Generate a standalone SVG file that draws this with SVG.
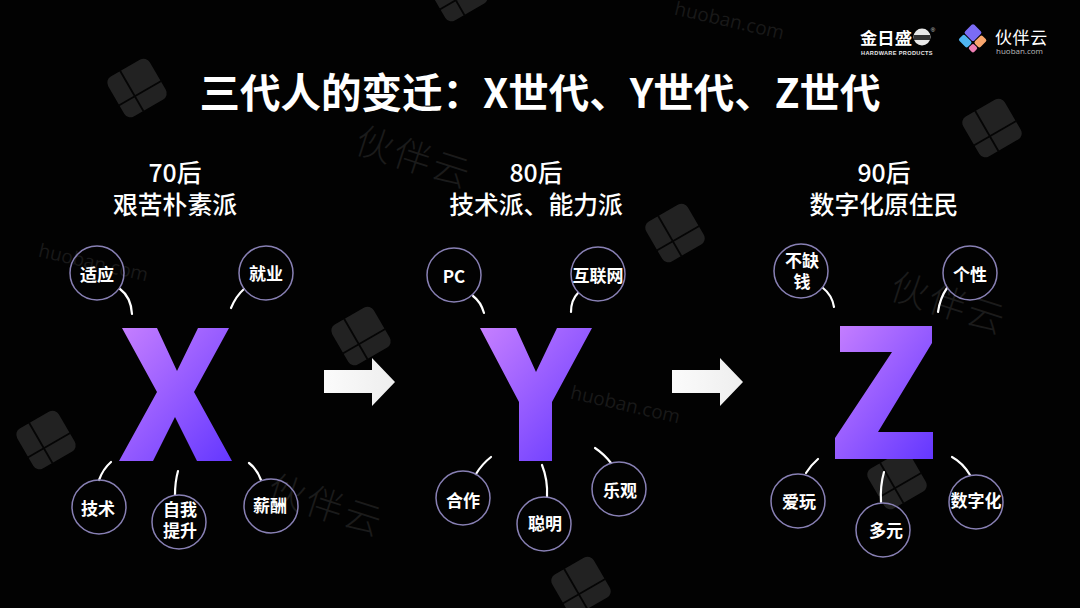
<svg xmlns="http://www.w3.org/2000/svg" width="1080" height="608" viewBox="0 0 1080 608">
<style>
.cjk{font-family:"Noto Sans CJK SC","Noto Sans",sans-serif}
.title{font-size:40.5px;font-weight:700;fill:#fff;text-anchor:middle}
.sub{font-size:24.8px;font-weight:500;fill:#fff;text-anchor:middle}
.lbl{font-size:17px;font-weight:700;fill:#fff;text-anchor:middle}
.ring{fill:none;stroke:#8880b4;stroke-width:1.5}
.con{fill:none;stroke:#fff;stroke-width:2.2;stroke-linecap:round}
.wm{font-size:37px;font-weight:300;fill:#1b1b1b;text-anchor:middle;letter-spacing:3px}
.wmu{font-family:"Open Sans","Liberation Sans",sans-serif;font-size:19px;fill:#191919;text-anchor:middle}
.arrow{fill:url(#ag)}
.letter{fill:url(#lg)}
</style>
<defs>
<linearGradient id="lg" gradientUnits="objectBoundingBox" x1="0" y1="0" x2="1" y2="1">
<stop offset="0" stop-color="#c67fff"/><stop offset="1" stop-color="#6437ff"/>
</linearGradient>
<linearGradient id="ag" x1="0" y1="0" x2="1" y2="0">
<stop offset="0" stop-color="#fbfbfb"/><stop offset="1" stop-color="#eeeeee"/>
</linearGradient>
<g id="mark">
<rect x="-24" y="-23" width="48" height="46" rx="7" fill="#222"/>
<path d="M-6,-24V24M-25,6H25" stroke="#050505" stroke-width="1.8" fill="none"/>
</g>
</defs>
<rect width="1080" height="608" fill="#020202"/>
<g id="watermarks">
<use href="#mark" transform="translate(137,88) rotate(-30)"/>
<use href="#mark" transform="translate(992,128) rotate(-30)"/>
<use href="#mark" transform="translate(675,233) rotate(-30)"/>
<use href="#mark" transform="translate(361,336) rotate(-30)"/>
<use href="#mark" transform="translate(46,440) rotate(-30)"/>
<use href="#mark" transform="translate(897,480) rotate(-30)"/>
<use href="#mark" transform="translate(581,586) rotate(-30)"/>
<use href="#mark" transform="translate(458,-8) rotate(-30)"/>
<text class="cjk wm" transform="translate(410,170) rotate(18)">伙伴云</text>
<text class="cjk wm" transform="translate(945,316) rotate(18)">伙伴云</text>
<text class="cjk wm" transform="translate(322,518) rotate(18)">伙伴云</text>
<text class="wmu" transform="translate(728,27) rotate(13)">huoban.com</text>
<text class="wmu" transform="translate(92,269) rotate(13)">huoban.com</text>
<text class="wmu" transform="translate(624,411) rotate(13)">huoban.com</text>
</g>
<g id="logos">
<g id="logo-jinri">
<text class="cjk" x="860" y="44" font-size="16" font-weight="700" fill="#fff" textLength="52" lengthAdjust="spacingAndGlyphs">金日盛</text>
<circle cx="922" cy="37" r="8.5" fill="#e8e8e8"/>
<rect x="914" y="35" width="16" height="5" fill="#333"/>
<text x="933" y="32" font-size="6" fill="#ddd" text-anchor="middle" font-family="'Liberation Sans',sans-serif">®</text>
<text x="897" y="55" font-size="5.6" font-weight="700" fill="#e8e8e8" text-anchor="middle" font-family="'Liberation Sans',sans-serif" letter-spacing=".35">HARDWARE PRODUCTS</text>
</g>
<g id="logo-huoban">
<g transform="translate(973,39) rotate(45)">
<rect x="-11" y="-11" width="13" height="13" rx="2" fill="#7b6cf6"/>
<rect x="3" y="-9" width="8" height="11" rx="2" fill="#f9a66d"/>
<rect x="-10" y="3" width="12" height="8" rx="2" fill="#4fb4f2"/>
<rect x="3" y="3" width="7" height="7" rx="2" fill="#ef7fb4"/>
</g>
<text class="cjk" x="995" y="44" font-size="17" fill="#fff" letter-spacing=".6">伙伴云</text>
<text x="996" y="54" font-size="8" fill="#bbb" font-family="'Open Sans','Liberation Sans',sans-serif">huoban.com</text>
</g>
</g>
<text class="cjk title" x="540" y="108">三代人的变迁：X世代、Y世代、Z世代</text>
<text class="cjk sub" x="175" y="182">70后</text>
<text class="cjk sub" x="175" y="214">艰苦朴素派</text>
<text class="cjk sub" x="536" y="182">80后</text>
<text class="cjk sub" x="536" y="214">技术派、能力派</text>
<text class="cjk sub" x="884" y="182">90后</text>
<text class="cjk sub" x="884" y="214">数字化原住民</text>

<g id="letter-x"><polygon class="letter" points="122,328 157,328 177,371 198,328 229,328 194,392 232,461 197,461 175,417 153,461 119,461 157,392"/></g>
<g id="letter-y"><polygon class="letter" points="480,328 516,328 536,372 557,328 592,328 552,402 552,461 519,461 519,402"/></g>
<g id="letter-z"><polygon class="letter" points="840,326 932,326 932,343 878,432 933,432 933,459 835,459 835,438 892,352 840,352"/></g>

<g id="arrow-1"><polygon class="arrow" points="324,370 372,370 372,358 395,382 372,406 372,393 324,393"/></g>
<g id="arrow-2"><polygon class="arrow" points="672,370 720,370 720,358 743,382 720,406 720,393 672,393"/></g>

<g id="connectors">
<path class="con" d="M120,289Q131,297 132,314"/>
<path class="con" d="M244,289Q236,296 231,308"/>
<path class="con" d="M99,480Q103,469 111,462"/>
<path class="con" d="M175,495Q175,482 178,471"/>
<path class="con" d="M261,480Q257,469 249,463"/>
<path class="con" d="M473,296Q481,302 484,313"/>
<path class="con" d="M578,293Q571,300 571,312"/>
<path class="con" d="M476,474Q482,464 491,457"/>
<path class="con" d="M547,497Q548,480 542,465"/>
<path class="con" d="M611,463Q604,454 595,448"/>
<path class="con" d="M823,288Q832,295 834,307"/>
<path class="con" d="M947,288Q940,298 938,312"/>
<path class="con" d="M806,473Q811,465 818,459"/>
<path class="con" d="M881,502Q880,486 884,472"/>
<path class="con" d="M970,475Q963,463 952,457"/>
</g>

<g id="n-shiying"><circle class="ring" cx="97" cy="273" r="27"/><text class="cjk lbl" x="97" y="281">适应</text></g>
<g id="n-jiuye"><circle class="ring" cx="266" cy="273" r="27"/><text class="cjk lbl" x="266" y="280">就业</text></g>
<g id="n-jishu"><circle class="ring" cx="99" cy="507" r="27"/><text class="cjk lbl" x="98" y="515">技术</text></g>
<g id="n-ziwo"><circle class="ring" cx="179" cy="522" r="27"/><text class="cjk lbl" x="180" y="516">自我</text><text class="cjk lbl" x="180" y="537">提升</text></g>
<g id="n-xinchou"><circle class="ring" cx="271" cy="506" r="27"/><text class="cjk lbl" x="270" y="512">薪酬</text></g>
<g id="n-pc"><circle class="ring" cx="454" cy="275" r="27"/><text class="cjk lbl" x="454" y="283">PC</text></g>
<g id="n-hulianwang"><circle class="ring" cx="598" cy="274" r="27"/><text class="cjk lbl" x="598" y="282">互联网</text></g>
<g id="n-hezuo"><circle class="ring" cx="463" cy="498" r="27"/><text class="cjk lbl" x="463" y="507">合作</text></g>
<g id="n-congming"><circle class="ring" cx="544" cy="524" r="27"/><text class="cjk lbl" x="545" y="530">聪明</text></g>
<g id="n-leguan"><circle class="ring" cx="619" cy="489" r="27"/><text class="cjk lbl" x="620" y="497">乐观</text></g>
<g id="n-buquequan"><circle class="ring" cx="801" cy="271" r="27"/><text class="cjk lbl" x="802" y="267">不缺</text><text class="cjk lbl" x="802" y="288">钱</text></g>
<g id="n-gexing"><circle class="ring" cx="970" cy="273" r="27"/><text class="cjk lbl" x="970" y="281">个性</text></g>
<g id="n-aiwan"><circle class="ring" cx="798" cy="501" r="27"/><text class="cjk lbl" x="799" y="508">爱玩</text></g>
<g id="n-duoyuan"><circle class="ring" cx="883" cy="530" r="27"/><text class="cjk lbl" x="886" y="537">多元</text></g>
<g id="n-shuzihua"><circle class="ring" cx="976" cy="502" r="27"/><text class="cjk lbl" x="976" y="507">数字化</text></g>
</svg>
